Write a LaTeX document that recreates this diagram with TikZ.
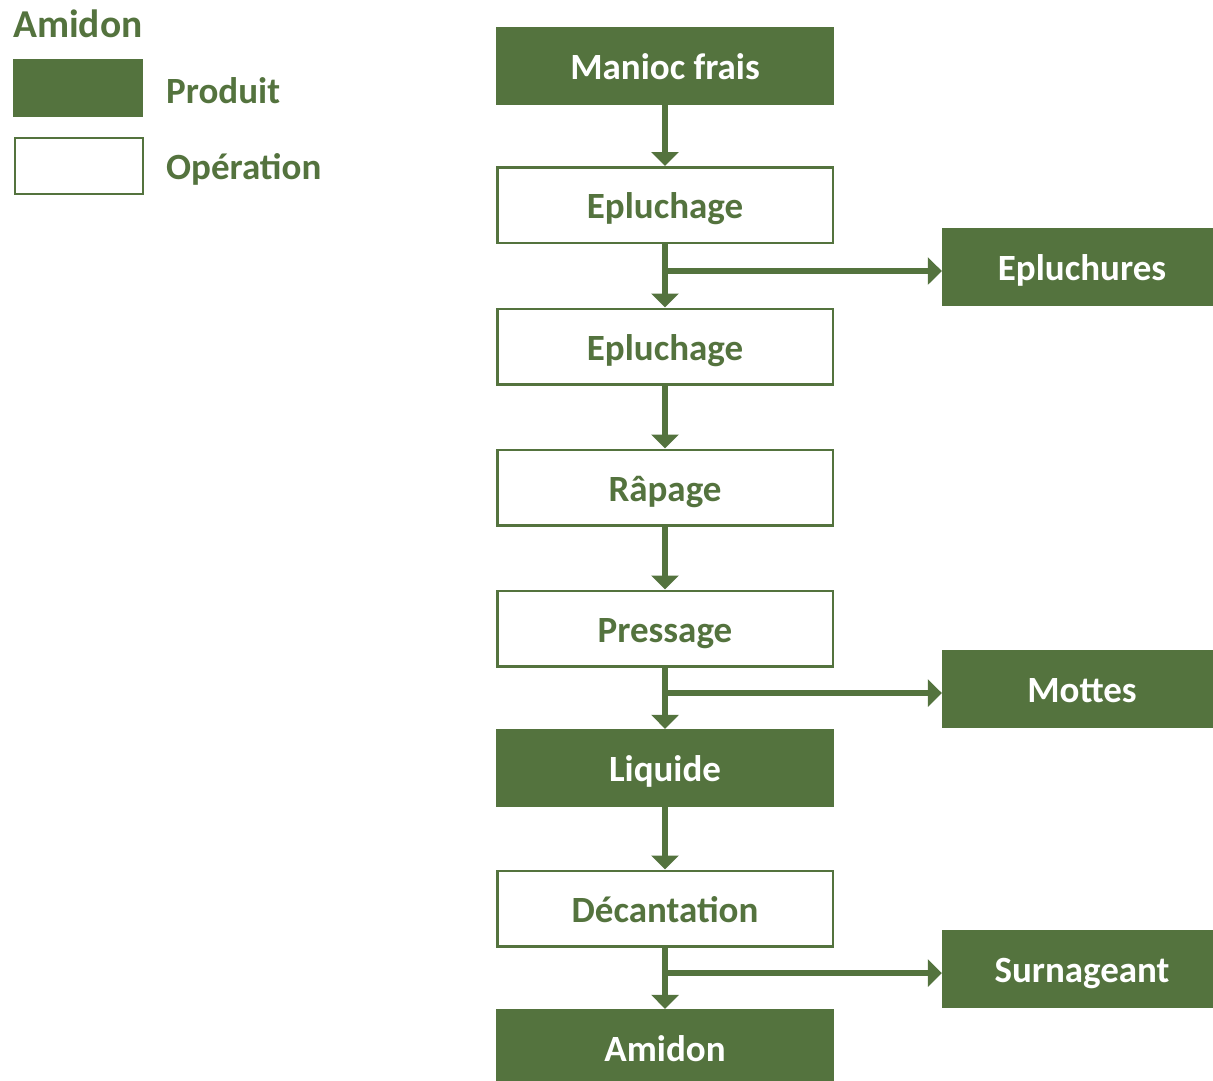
\documentclass[tikz,border=0pt]{standalone}
\usepackage{fontspec}
\setmainfont{Carlito}
\usetikzlibrary{arrows.meta}
\definecolor{leaf}{RGB}{84,115,62}
\tikzset{
  lbl/.style={font=\fontsize{37}{44}\selectfont\bfseries, text height=30pt, text depth=3pt},
  prod/.style={lbl, fill=leaf, text=white, minimum width=338pt, minimum height=78pt, inner sep=0pt},
  oper/.style={lbl, draw=leaf, line width=2.5pt, fill=white, text=leaf, minimum width=335.5pt, minimum height=75.5pt, inner sep=0pt},
  side/.style={prod, minimum width=280pt},
  flow/.style={draw=leaf, line width=6.5pt, -{Triangle[width=27pt,length=14pt]}},
  legtxt/.style={font=\fontsize{37}{44}\selectfont\bfseries, text=leaf, inner sep=0pt},
}
\begin{document}
\begin{tikzpicture}[x=1pt,y=-1pt]
\useasboundingbox (0,0) rectangle (1213,1080);
% legend
\node[legtxt, font=\fontsize{39.5}{47}\selectfont\bfseries, anchor=base west] (legtitle) at (13,37) {Amidon};
\node[fill=leaf, minimum width=130pt, minimum height=58pt, inner sep=0pt, anchor=north west] (legprod) at (13,59) {};
\node[draw=leaf, line width=2pt, minimum width=128pt, minimum height=56pt, inner sep=0pt, anchor=north west] (legoper) at (14,137) {};
\node[legtxt, anchor=base west] (legprodtxt) at (166,103) {Produit};
\node[legtxt, anchor=base west] (legopertxt) at (166,179) {Opération};
% main column
\node[prod] (manioc) at (665,66) {Manioc frais};
\node[oper] (ep1) at (665,205) {Epluchage};
\node[oper] (ep2) at (665,346.5) {Epluchage};
\node[oper] (rap) at (665,487.5) {Râpage};
\node[oper] (press) at (665,628.5) {Pressage};
\node[prod] (liq) at (665,768) {Liquide};
\node[oper] (dec) at (665,908.5) {Décantation};
\node[prod] (amidon) at (665,1048) {Amidon};
% by-products (boxes run past the right edge)
\node[side] (epl) at (1082,267) {Epluchures};
\node[side] (mot) at (1082,689) {Mottes};
\node[side] (sur) at (1082,969) {Surnageant};
% flow
\draw[flow] (manioc) -- (ep1);
\draw[flow] (ep1) -- (ep2);
\draw[flow] (ep2) -- (rap);
\draw[flow] (rap) -- (press);
\draw[flow] (press) -- (liq);
\draw[flow] (liq) -- (dec);
\draw[flow] (dec) -- (amidon);
% branches
\coordinate (b1) at (665,271);
\coordinate (b2) at (665,693);
\coordinate (b3) at (665,973);
\draw[flow] (b1) -- (b1 -| epl.west);
\draw[flow] (b2) -- (b2 -| mot.west);
\draw[flow] (b3) -- (b3 -| sur.west);
\end{tikzpicture}
\end{document}
